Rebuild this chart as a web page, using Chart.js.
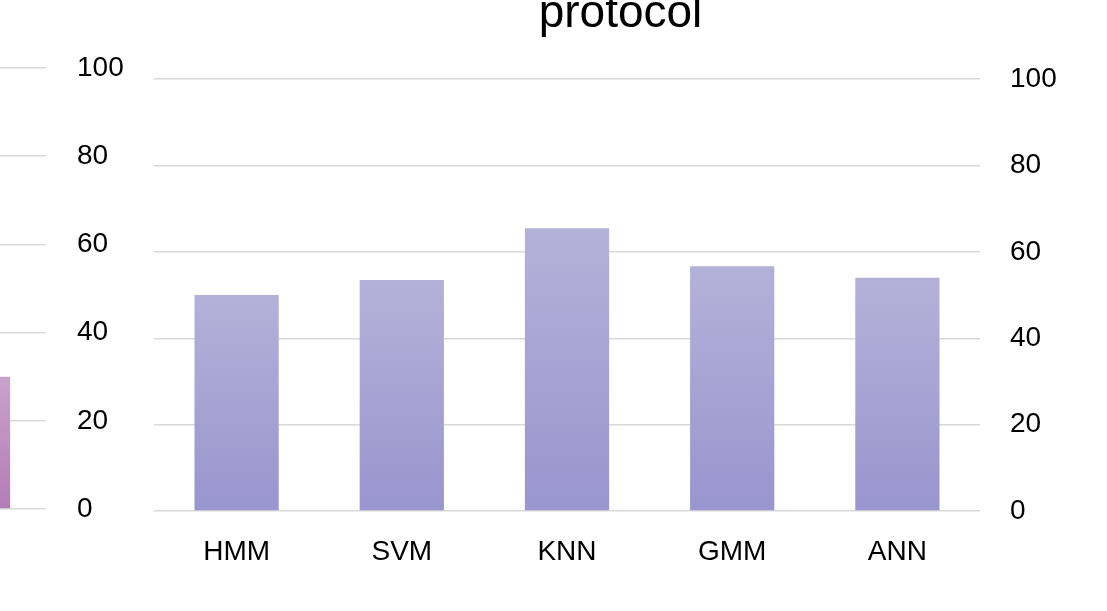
<!DOCTYPE html>
<html>
<head>
<meta charset="utf-8">
<script src="https://cdn.jsdelivr.net/npm/chart.js@4/dist/chart.umd.min.js"></script>
<style>
  html, body { margin: 0; padding: 0; background: #ffffff; overflow: hidden; }
  body { width: 1107px; height: 611px; position: relative; }
  .box { position: absolute; }
  #leftBox { left: -110px; top: 0px; width: 246px; height: 611px; }
  #mainBox { left: 0px; top: -13px; width: 1107px; height: 624px; }
</style>
</head>
<body>
<div class="box" id="leftBox"><canvas id="leftChart"></canvas></div>
<div class="box" id="mainBox"><canvas id="mainChart"></canvas></div>
<script>
// ---- data ----
const titleText = 'protocol';
const categories = ['HMM', 'SVM', 'KNN', 'GMM', 'ANN'];
const accuracyValues = [50, 53.5, 65.5, 56.7, 54];
const yTicks = [0, 20, 40, 60, 80, 100];

// neighbouring (cropped) chart: only its last bar is visible
const leftCategories = [''];
const leftValues = [30];

const FONT = "'Liberation Sans', Arial, sans-serif";
const GRID = '#d9d9d9';

function barGradient(top, bottom) {
  return function (c) {
    const ch = c.chart;
    const s = ch.scales && ch.scales.y;
    if (c.type !== 'data' || !s || c.raw == null) return bottom;
    const yt = s.getPixelForValue(c.raw);
    const yb = s.getPixelForValue(0);
    if (!isFinite(yt) || !isFinite(yb)) return bottom;
    const g = ch.ctx.createLinearGradient(0, yt, 0, yb);
    g.addColorStop(0, top);
    g.addColorStop(1, bottom);
    return g;
  };
}

function yAxis(width, pad) {
  return {
    position: 'right',
    min: 0,
    max: 100,
    afterBuildTicks: (scale) => { scale.ticks = yTicks.map(v => ({ value: v })); },
    afterFit: (scale) => { scale.width = width; },
    grid: { color: GRID, lineWidth: 1.5, drawTicks: false },
    border: { display: false },
    ticks: { color: '#000', padding: pad, font: { family: FONT, size: 28 } }
  };
}

new Chart(document.getElementById('leftChart'), {
  type: 'bar',
  data: {
    labels: leftCategories,
    datasets: [{
      data: leftValues,
      xAxisID: 'x',
      yAxisID: 'y',
      backgroundColor: barGradient('#c9a2cb', '#b47cb6'),
      borderWidth: 0,
      categoryPercentage: 1,
      barPercentage: 0.54
    }]
  },
  options: {
    responsive: true,
    maintainAspectRatio: false,
    animation: false,
    layout: { padding: { top: 68, bottom: 102, left: 0, right: 0 } },
    plugins: { legend: { display: false }, title: { display: false }, tooltip: { enabled: false } },
    scales: {
      x: { display: false },
      y: yAxis(90, 31)
    }
  }
});

new Chart(document.getElementById('mainChart'), {
  type: 'bar',
  data: {
    labels: categories,
    datasets: [{
      data: accuracyValues,
      xAxisID: 'x',
      yAxisID: 'y',
      backgroundColor: barGradient('#b4b1d9', '#9995ce'),
      borderWidth: 0,
      categoryPercentage: 1,
      barPercentage: 0.51
    }]
  },
  options: {
    responsive: true,
    maintainAspectRatio: false,
    animation: false,
    layout: { padding: { top: 0, bottom: 0, left: 134, right: 0 } },
    plugins: {
      legend: { display: false },
      tooltip: { enabled: false },
      title: {
        display: true,
        text: titleText,
        color: '#000',
        font: { family: FONT, size: 46, weight: 'normal' },
        padding: { top: 0, bottom: 37 }
      }
    },
    scales: {
      x: {
        grid: { display: false, drawTicks: false },
        border: { display: false },
        afterFit: (scale) => { scale.height = 100; },
        ticks: { color: '#000', padding: 24, font: { family: FONT, size: 28 } }
      },
      spacer: {
        axis: 'y',
        position: 'left',
        display: true,
        min: 0,
        max: 100,
        grid: { display: false, drawTicks: false },
        border: { display: false },
        ticks: { display: false },
        afterFit: (scale) => { scale.width = 20; }
      },
      y: yAxis(127, 30)
    }
  }
});
</script>
</body>
</html>
